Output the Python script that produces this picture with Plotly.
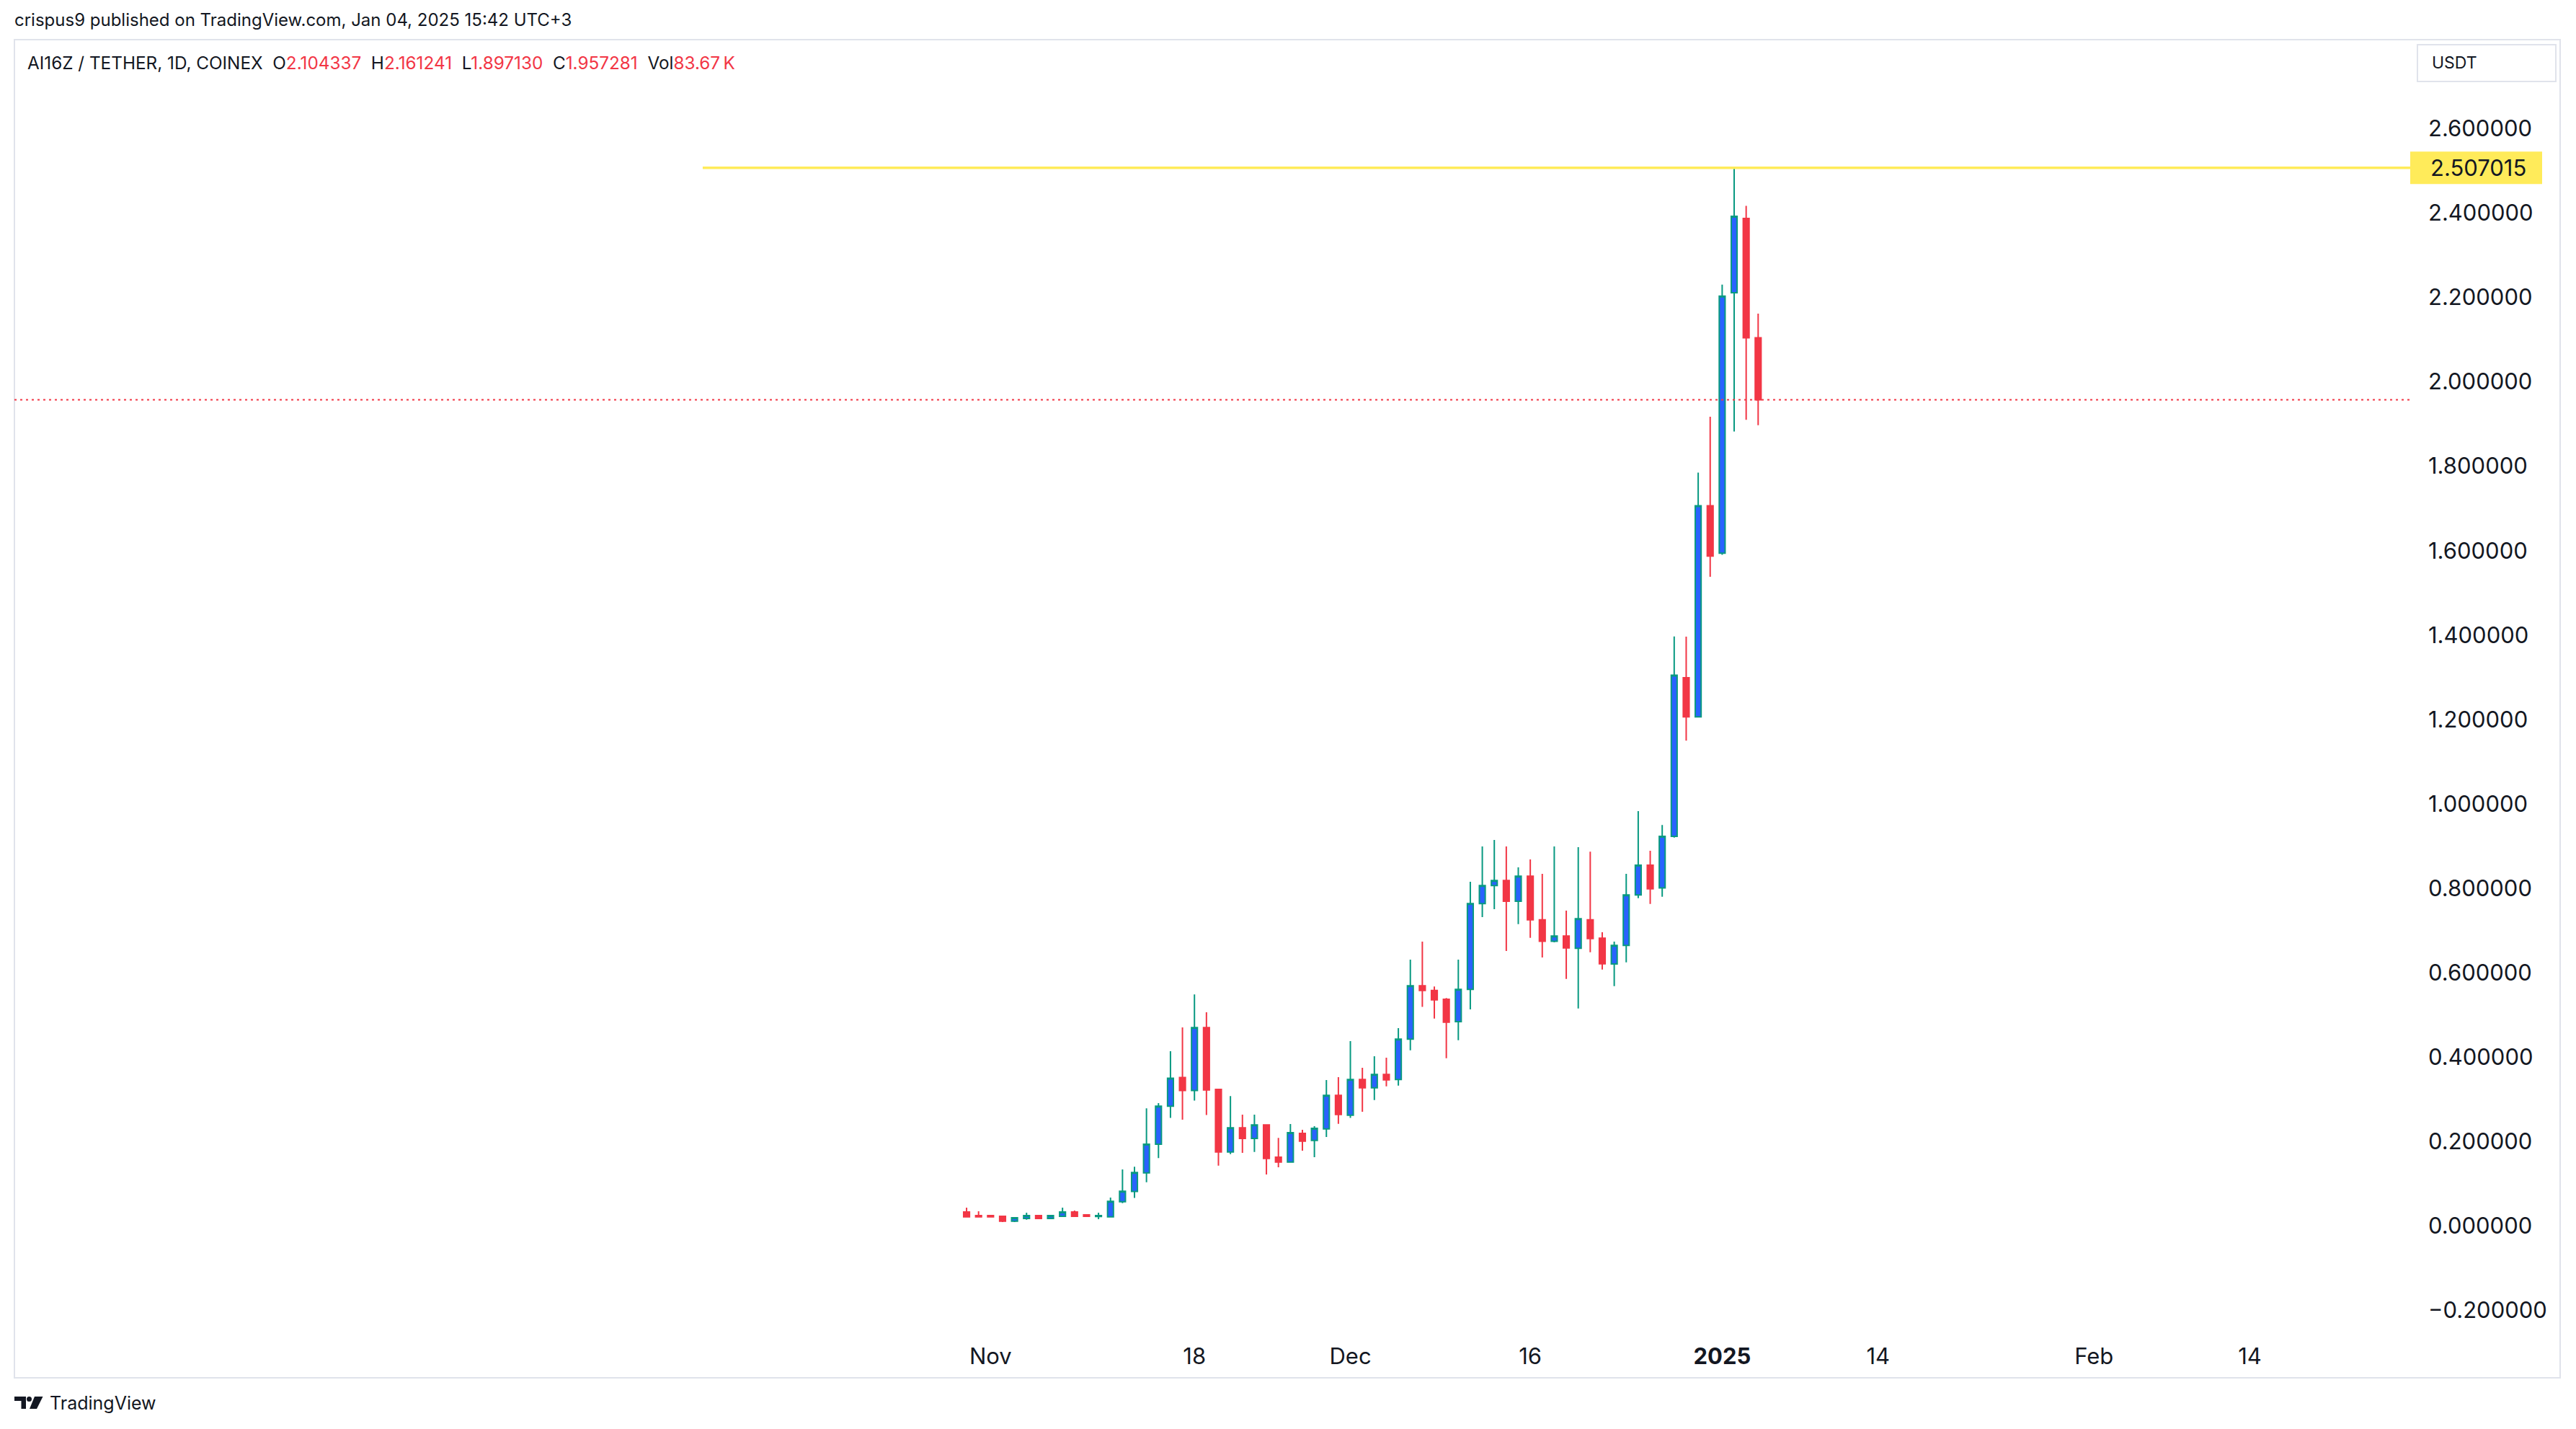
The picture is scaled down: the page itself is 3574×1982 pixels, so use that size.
import pandas as pd
import plotly.graph_objects as go

# AI16Z / USDT daily candles, Oct 30 2024 -> Jan 04 2025
dates = pd.date_range("2024-10-30", "2025-01-04", freq="D")

opens = [0.0333, 0.0248, 0.0248, 0.0231, 0.0116, 0.0179, 0.0248, 0.0179, 0.0231, 0.0333,
         0.0265, 0.0225, 0.0219, 0.0578, 0.0818, 0.126, 0.194, 0.284, 0.352, 0.321,
         0.470, 0.3237, 0.1756, 0.2326, 0.2075, 0.2394, 0.163, 0.1517, 0.2195, 0.203,
         0.2302, 0.3095, 0.2627, 0.347, 0.3276, 0.359, 0.347, 0.4427, 0.569, 0.558,
         0.537, 0.484, 0.5605, 0.7638, 0.8065, 0.8185, 0.7694, 0.8287, 0.7256, 0.6744,
         0.687, 0.658, 0.7256, 0.682, 0.621, 0.6647, 0.7843, 0.8548, 0.801, 0.923,
         1.299, 1.206, 1.706, 1.594, 2.211, 2.387, 2.104337]
highs = [0.0436, 0.035, 0.0265, 0.0248, 0.0196, 0.0316, 0.0265, 0.0248, 0.0436, 0.0367,
         0.0265, 0.0316, 0.0675, 0.134, 0.1404, 0.279, 0.291, 0.414, 0.4705, 0.5486,
         0.5064, 0.325, 0.308, 0.2639, 0.2639, 0.2394, 0.2087, 0.2417, 0.228, 0.2365,
         0.3459, 0.3527, 0.438, 0.3749, 0.402, 0.3988, 0.4688, 0.631, 0.6738, 0.5673,
         0.54, 0.631, 0.8155, 0.8992, 0.9146, 0.899, 0.8497, 0.8685, 0.8343, 0.899,
         0.7472, 0.8975, 0.887, 0.696, 0.6738, 0.8343, 0.9829, 0.889, 0.950, 1.3968,
         1.3963, 1.7846, 1.917, 2.230, 2.507015, 2.4167, 2.161241]
lows = [0.0202, 0.0202, 0.0202, 0.0094, 0.0094, 0.0151, 0.0179, 0.016, 0.0214, 0.0231,
        0.0214, 0.016, 0.0202, 0.0544, 0.0664, 0.1039, 0.161, 0.256, 0.252, 0.297,
        0.263, 0.143, 0.1705, 0.1733, 0.1756, 0.122, 0.139, 0.1505, 0.1785, 0.163,
        0.211, 0.2422, 0.256, 0.2707, 0.2986, 0.331, 0.3327, 0.4164, 0.519, 0.4916,
        0.3976, 0.4403, 0.5132, 0.7319, 0.7506, 0.6516, 0.7153, 0.6829, 0.6362, 0.672,
        0.5855, 0.5155, 0.6487, 0.6077, 0.5684, 0.6248, 0.7768, 0.763, 0.780, 0.92,
        1.150, 1.206, 1.538, 1.59, 1.882, 1.910, 1.89713]
closes = [0.0219, 0.0219, 0.0219, 0.0116, 0.0196, 0.0248, 0.0179, 0.0248, 0.0333, 0.0231,
          0.0231, 0.0248, 0.0584, 0.0823, 0.1267, 0.194, 0.284, 0.350, 0.321, 0.470,
          0.3225, 0.1756, 0.2326, 0.2075, 0.2394, 0.160, 0.1517, 0.221, 0.201, 0.2314,
          0.3095, 0.2644, 0.347, 0.3276, 0.359, 0.3464, 0.4427, 0.569, 0.558, 0.536,
          0.483, 0.5605, 0.7638, 0.8065, 0.8185, 0.7694, 0.8287, 0.7256, 0.6744, 0.687,
          0.659, 0.728, 0.681, 0.6214, 0.6647, 0.7843, 0.8548, 0.799, 0.9231, 1.305,
          1.2063, 1.706, 1.587, 2.203, 2.392, 2.104337, 1.957281]

ath_level = 2.507015
ath_line_start = "2024-10-08"
last_close = closes[-1]

x_range = ["2024-08-11 14:40", "2025-02-27 08:50"]
y_range = [-0.2622, 2.8104]
y_ticks = [-0.2, 0.0, 0.2, 0.4, 0.6, 0.8, 1.0, 1.2, 1.4, 1.6, 1.8, 2.0, 2.2, 2.4, 2.6]

tick_dates = ["2024-11-01", "2024-11-18", "2024-12-01", "2024-12-16",
              "2025-01-01", "2025-01-14", "2025-02-01", "2025-02-14"]
tick_text = ["Nov", "18", "Dec", "16", "<b>2025</b>", "14", "Feb", "14"]

# page body has an 8px margin, so the figure is laid out 8px smaller
OFF = 8
W, H = 3574 - OFF, 1982 - OFF
L, R, T, B = 20 - OFF, 230, 55 - OFF, 128
PW, PH = W - L - R, H - T - B

TXT = "#131722"
RED = "#F23645"
GREEN = "#089981"
BLUE = "#2962FF"
YELLOW = "#FFEB5A"
FONT = "Inter"


def px(x):
    # screen x (full reference pixels) -> paper
    return (x - OFF - L) / PW


def py(y):
    return (H - B - (y - OFF)) / PH


fig = go.Figure(go.Candlestick(
    x=dates, open=opens, high=highs, low=lows, close=closes,
    increasing=dict(fillcolor=BLUE, line=dict(color=GREEN, width=2)),
    decreasing=dict(fillcolor=RED, line=dict(color=RED, width=2)),
    whiskerwidth=0, hoverinfo="x+y"))

shapes = [
    # chart frame
    dict(type="rect", xref="paper", yref="paper", x0=px(20), x1=px(3552), y0=py(1911), y1=py(55),
         line=dict(color="#E0E3EB", width=2), layer="below"),
    # USDT box
    dict(type="rect", xref="paper", yref="paper", x0=px(3354), x1=px(3546), y0=py(113), y1=py(62),
         line=dict(color="#E0E3EB", width=2)),
    # ATH horizontal line
    dict(type="line", xref="x", yref="y", x0=ath_line_start, x1=x_range[1], y0=ath_level, y1=ath_level,
         line=dict(color=YELLOW, width=3.5)),
    # last close dotted line
    dict(type="line", xref="x", yref="y", x0=x_range[0], x1=x_range[1], y0=last_close, y1=last_close,
         line=dict(color=RED, width=2, dash="3px,5px")),
    # price label box on scale
    dict(type="rect", xref="paper", yref="y", x0=1, x1=px(3527),
         y0=ath_level - 22.5 / 585.5, y1=ath_level + 22.5 / 585.5,
         fillcolor=YELLOW, line=dict(width=0)),
    # TradingView logo pieces
    dict(type="rect", xref="paper", yref="paper", x0=px(20), x1=px(36), y0=py(1943), y1=py(1937),
         fillcolor=TXT, line=dict(width=0)),
    dict(type="rect", xref="paper", yref="paper", x0=px(29.5), x1=px(36), y0=py(1954), y1=py(1937),
         fillcolor=TXT, line=dict(width=0)),
    dict(type="circle", xref="paper", yref="paper", x0=px(37), x1=px(44), y0=py(1944), y1=py(1937),
         fillcolor=TXT, line=dict(width=0)),
    dict(type="path", xref="paper", yref="paper",
         path=f"M {px(48)},{py(1937)} L {px(59.5)},{py(1937)} L {px(51)},{py(1954)} L {px(41)},{py(1954)} Z",
         fillcolor=TXT, line=dict(width=0)),
]

sp = "\u00a0\u00a0"
legend_line = ("AI16Z / TETHER, 1D, COINEX" + sp +
               f"O<span style='color:{RED}'>2.104337</span>" + sp +
               f"H<span style='color:{RED}'>2.161241</span>" + sp +
               f"L<span style='color:{RED}'>1.897130</span>" + sp +
               f"C<span style='color:{RED}'>1.957281</span>" + sp +
               f"Vol<span style='color:{RED}'>83.67\u2009K</span>")

annotations = [
    dict(text="crispus9 published on TradingView.com, Jan 04, 2025 15:42 UTC+3",
         xref="paper", yref="paper", x=px(18), y=py(27), xanchor="left", yanchor="middle",
         showarrow=False, font=dict(family=FONT, size=24, color=TXT)),
    dict(text=legend_line, xref="paper", yref="paper", x=px(36), y=py(87),
         xanchor="left", yanchor="middle", showarrow=False,
         font=dict(family=FONT, size=24.3, color=TXT)),
    dict(text="USDT", xref="paper", yref="paper", x=px(3372), y=py(87),
         xanchor="left", yanchor="middle", showarrow=False,
         font=dict(family=FONT, size=23, color=TXT)),
    dict(text=f"{ath_level:.6f}", xref="paper", yref="y", x=px(3370), y=ath_level,
         xanchor="left", yanchor="middle", showarrow=False,
         font=dict(family=FONT, size=31, color=TXT)),
    dict(text="TradingView", xref="paper", yref="paper", x=px(67), y=py(1946),
         xanchor="left", yanchor="middle", showarrow=False,
         font=dict(family=FONT, size=25, color=TXT)),
]

fig.update_layout(
    width=W, height=H,
    margin=dict(l=L, r=R, t=T, b=B),
    paper_bgcolor="white", plot_bgcolor="white",
    showlegend=False,
    boxgap=0.3,
    font=dict(family=FONT, size=31, color=TXT),
    xaxis=dict(type="date", range=x_range, rangeslider=dict(visible=False),
               tickvals=tick_dates, ticktext=tick_text, showgrid=False, zeroline=False,
               showline=False, ticks="", ticklabelstandoff=6,
               tickfont=dict(family=FONT, size=31, color=TXT)),
    yaxis=dict(side="right", range=y_range, tickmode="array", tickvals=y_ticks,
               tickformat=".6f", showgrid=False, zeroline=False, showline=False, ticks="",
               ticklabelstandoff=24, tickfont=dict(family=FONT, size=31, color=TXT)),
    shapes=shapes,
    annotations=annotations,
)

fig.write_html("out.html")
